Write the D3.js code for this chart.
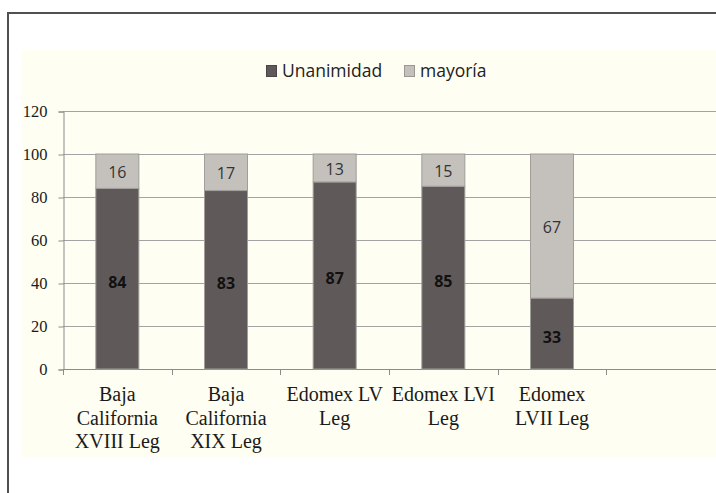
<!DOCTYPE html>
<meta charset="utf-8">
<style>
body { margin: 0; background: #fff; }
.grid line { stroke: #a3a3a3; }
.barlabel { font-family: "Open Sans", sans-serif; font-size: 16px; }
.legend text { font-family: "Open Sans", sans-serif; font-size: 17.5px; fill: #222; }
</style>
<svg width="716" height="493"></svg>
<script src="https://d3js.org/d3.v7.min.js"></script>
<script>

var categories = ["Baja\nCalifornia\nXVIII Leg", "Baja\nCalifornia\nXIX Leg", "Edomex LV\nLeg", "Edomex LVI\nLeg", "Edomex\nLVII Leg", ""];
var unanimidad = [84, 83, 87, 85, 33];
var mayoria = [16, 17, 13, 15, 67];
var yTicks = [0, 20, 40, 60, 80, 100, 120];
var seriesNames = ["Unanimidad", "mayoría"];
var colors = ["#5f5a59", "#c4c1bd"];

var svg = d3.select("svg");

// frame + chart background
svg.append("rect").attr("x", 22).attr("y", 50).attr("width", 700).attr("height", 407).attr("fill", "#fefef2");
svg.append("path").attr("d", "M8,500V13H730").attr("fill", "none").attr("stroke", "#505050").attr("stroke-width", 2);

var x = d3.scaleBand().domain(categories).range([63, 715]).paddingInner(0).paddingOuter(0);
var y = d3.scaleLinear().domain([0, 120]).range([369, 111]);
var barW = 43;

// gridlines
svg.append("g").attr("class", "grid")
  .selectAll("line").data(yTicks.slice(1)).enter().append("line")
  .attr("x1", 63).attr("x2", 716)
  .attr("y1", function(d) { return y(d) + 0.5; }).attr("y2", function(d) { return y(d) + 0.5; });

// y axis
var yAxis = svg.append("g").attr("transform", "translate(63.5,0.5)")
  .call(d3.axisLeft(y).tickValues(yTicks).tickSize(5).tickPadding(11));
yAxis.select(".domain").attr("stroke", "#8c8c8c");
yAxis.selectAll(".tick line").attr("stroke", "#8c8c8c");
yAxis.selectAll(".tick text")
  .style("font-family", '"Liberation Serif", "Times New Roman", serif')
  .style("font-size", "16.5px").attr("fill", "#1a1a1a");

// x axis line and ticks at band edges
var xg = svg.append("g");
xg.append("line").attr("x1", 63).attr("x2", 716).attr("y1", 369.5).attr("y2", 369.5).attr("stroke", "#8c8c8c");
xg.selectAll("line.t").data(categories).enter().append("line").attr("class", "t")
  .attr("x1", function(d) { return Math.round(x(d)) + 0.5; })
  .attr("x2", function(d) { return Math.round(x(d)) + 0.5; })
  .attr("y1", 369).attr("y2", 375).attr("stroke", "#8c8c8c");

// category labels
var cl = svg.append("g").selectAll("text").data(categories).enter().append("text")
  .attr("text-anchor", "middle")
  .style("font-family", '"Liberation Serif", "Times New Roman", serif')
  .style("font-size", "20px").attr("fill", "#1a1a1a");
cl.each(function(d) {
  var t = d3.select(this);
  d.split("\n").forEach(function(line, i) {
    t.append("tspan").attr("x", x(d) + x.bandwidth() / 2).attr("y", 401 + i * 23.5).text(line);
  });
});

// stacked bars
var data = unanimidad.map(function(u, i) { return { cat: categories[i], u: u, m: mayoria[i] }; });
var bars = svg.append("g");
data.forEach(function(d) {
  var cx = x(d.cat) + x.bandwidth() / 2;
  bars.append("rect").attr("x", cx - barW / 2).attr("y", y(d.u)).attr("width", barW)
    .attr("height", y(0) - y(d.u)).attr("fill", colors[0]).attr("stroke", "#a09d9a").attr("stroke-width", 1);
  bars.append("rect").attr("x", cx - barW / 2).attr("y", y(d.u + d.m)).attr("width", barW)
    .attr("height", y(d.u) - y(d.u + d.m)).attr("fill", colors[1]).attr("stroke", "#a09d9a").attr("stroke-width", 1);
  bars.append("text").attr("class", "barlabel").attr("x", cx).attr("y", y(d.u / 2) + 9)
    .attr("text-anchor", "middle").attr("font-weight", "bold").attr("fill", "#111").text(d.u);
  bars.append("text").attr("class", "barlabel").attr("x", cx).attr("y", y(d.u + d.m / 2) + 7)
    .attr("text-anchor", "middle").attr("fill", "#333").text(d.m);
});

// legend
var lg = svg.append("g").attr("class", "legend");
var lx = [266, 404];
seriesNames.forEach(function(name, i) {
  lg.append("rect").attr("x", lx[i] + 0.5).attr("y", 65.5).attr("width", 10).attr("height", 11)
    .attr("fill", colors[i]).attr("stroke", i ? "#9a9794" : "#4a4646");
  lg.append("text").attr("x", lx[i] + 16).attr("y", 77).text(name);
});

</script>
